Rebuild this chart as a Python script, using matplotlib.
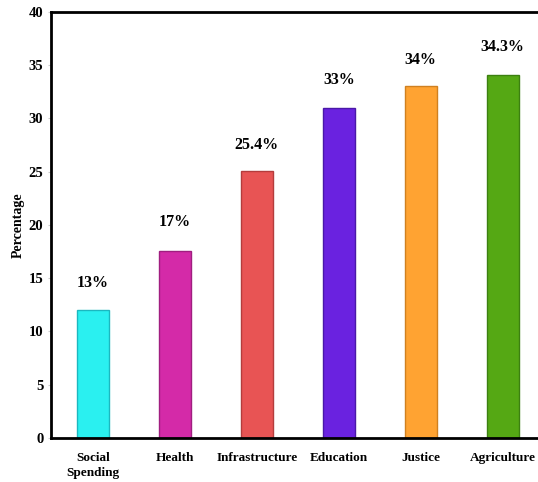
import matplotlib.pyplot as plt

categories = ["Social\nSpending", "Health", "Infrastructure", "Education", "Justice", "Agriculture"]
values = [12.0, 17.6, 25.1, 31.0, 33.0, 34.1]
labels = ["13%", "17%", "25.4%", "33%", "34%", "34.3%"]
label_offsets = [14, 15, 13, 14, 13, 14]
colors = ["#2AF0F0", "#D42AA8", "#E85454", "#6A22E0", "#FFA332", "#55A814"]
edges = ["#1BB8C0", "#A01E80", "#B43C3C", "#4A18A8", "#D08020", "#3C8010"]

plt.rcParams["font.family"] = ["Liberation Serif", "DejaVu Serif"]
plt.rcParams["font.weight"] = "bold"

fig = plt.figure(figsize=(5.38, 4.82), dpi=100)
ax = fig.add_axes([0.0948, 0.0913, 0.9052, 0.884])

x = range(len(categories))
bars = ax.bar(x, values, width=0.39, color=colors, edgecolor=edges, linewidth=1)

for b, lab, off in zip(bars, labels, label_offsets):
    ax.annotate(lab, (b.get_x() + b.get_width() / 2, b.get_height()),
                xytext=(0, off), textcoords="offset points",
                ha="center", va="bottom", fontsize=11.5, fontweight="bold")

ax.set_xlim(-0.51, 5.43)
ax.set_ylim(0, 40)
ax.set_yticks(range(0, 41, 5))
ax.set_xticks(list(x))
ax.set_xticklabels(categories, fontsize=9.5, fontweight="bold", linespacing=1.4)
ax.tick_params(axis="y", labelsize=10.5, length=2, color="#cccccc")
ax.tick_params(axis="x", length=0, pad=10)
ax.set_ylabel("Percentage", fontsize=10, fontweight="bold", labelpad=3)

for s in ["left", "top", "bottom"]:
    ax.spines[s].set_linewidth(2)
ax.spines["right"].set_visible(False)

fig.savefig("out.png", dpi=100)
